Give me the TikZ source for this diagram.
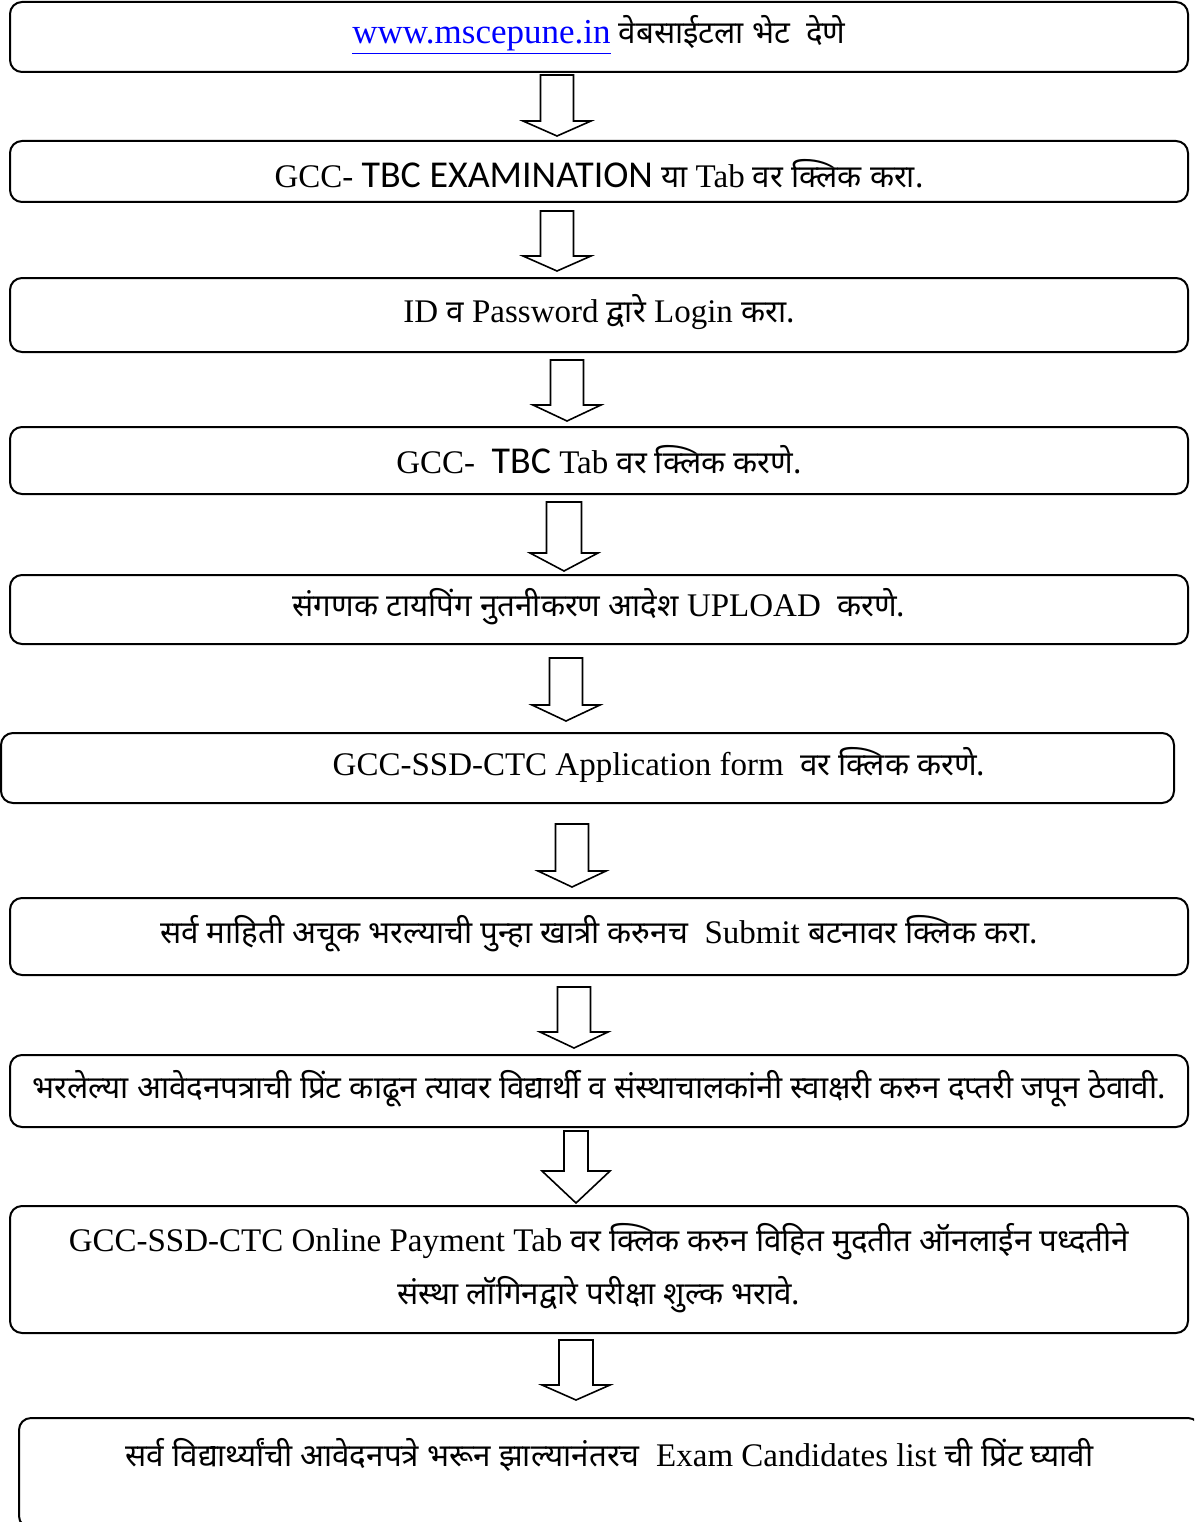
\documentclass[tikz,border=0pt]{standalone}
\usepackage{fontspec}
\setmainfont{Liberation Serif}
\newfontfamily\devfont[Script=Devanagari, Scale=0.95]{Noto Sans}
\newfontfamily\calfont[Scale=1.15]{Carlito}
\usetikzlibrary{calc}
\definecolor{LinkBlue}{HTML}{0000FF}
\newcommand{\mr}[1]{{\devfont #1}}
\newcommand{\cb}[1]{{\calfont #1}}
% block arrow between two named coordinates: top, tip, head length, half shaft
\newcommand{\downblock}[4]{%
  \draw[blockarrow] ($(#1)+(-#4,0)$) -- ($(#1)+(#4,0)$) -- ($(#2)+(#4,-#3)$) -- ($(#2)+(34,-#3)$)
    -- (#2) -- ($(#2)+(-34,-#3)$) -- ($(#2)+(-#4,-#3)$) -- cycle;}
\tikzset{
  stepbox/.style={draw=black, line width=2pt, rounded corners=12pt, fill=white, inner sep=0pt, minimum width=1178pt, align=center, font=\fontsize{33}{53}\selectfont, text height=22pt, text depth=8pt},
  blockarrow/.style={draw=black, line width=1.6pt, fill=white, line join=miter}
}
\begin{document}
\begin{tikzpicture}[x=1pt, y=-1pt]
\useasboundingbox (0,0) rectangle (1194,1522);
\clip (0,0) rectangle (1194,1522);

\node[stepbox, minimum height=70pt] (visit) at (599,37)
  {\textcolor{LinkBlue}{\fontsize{35}{40}\selectfont\underline{www.mscepune.in}} \mr{वेबसाईटला भेट\ \ देणे}};
\node[stepbox, minimum height=61pt, text height=32pt, text depth=0pt] (examtab) at (599,171.5)
  {GCC- \cb{TBC EXAMINATION} \mr{या} Tab \mr{वर क्लिक करा.}};
\node[stepbox, minimum height=74pt] (login) at (599,315)
  {ID \mr{व} Password \mr{द्वारे} Login \mr{करा.}};
\node[stepbox, minimum height=67pt, text height=28pt, text depth=2pt] (tbctab) at (599,460.5)
  {GCC-\ \ \cb{TBC} Tab \mr{वर क्लिक करणे.}};
\node[stepbox, minimum height=69pt] (upload) at (599,609.5)
  {\mr{संगणक टायपिंग नुतनीकरण आदेश} UPLOAD\ \ \mr{करणे.}};
\node[stepbox, minimum width=1173pt, minimum height=70pt] (appform) at (587.5,768)
  {\hspace*{143pt}GCC-SSD-CTC Application form\ \ \mr{वर क्लिक करणे.}};
\node[stepbox, minimum height=77pt] (submit) at (599,936.5)
  {\mr{सर्व माहिती अचूक भरल्याची पुन्हा खात्री करुनच}\ \ Submit \mr{बटनावर क्लिक करा.}};
\node[stepbox, minimum height=72pt] (print) at (599,1091)
  {\mr{भरलेल्या आवेदनपत्राची प्रिंट काढून त्यावर विद्यार्थी व संस्थाचालकांनी स्वाक्षरी करुन दप्तरी जपून ठेवावी.}};
\node[stepbox, minimum height=127pt, text height=78pt] (payment) at (599,1269.5)
  {GCC-SSD-CTC Online Payment Tab \mr{वर क्लिक करुन विहित मुदतीत ऑनलाईन पध्दतीने}\\
   \mr{संस्था लॉगिनद्वारे परीक्षा शुल्क भरावे.}};
\node[stepbox, minimum width=1181pt, minimum height=110pt, text depth=36pt] (candlist) at (609.5,1473)
  {\mr{सर्व विद्यार्थ्यांची आवेदनपत्रे भरून झाल्यानंतरच}\ \ Exam Candidates list \mr{ची प्रिंट घ्यावी}};

% block arrows
\coordinate (a1t) at (557,75);   \coordinate (a1h) at (557,136);
\coordinate (a2t) at (557,211);  \coordinate (a2h) at (557,271);
\coordinate (a3t) at (567,360);  \coordinate (a3h) at (567,421);
\coordinate (a4t) at (564,502);  \coordinate (a4h) at (564,571);
\coordinate (a5t) at (566,658);  \coordinate (a5h) at (566,721);
\coordinate (a6t) at (572,824);  \coordinate (a6h) at (572,887);
\coordinate (a7t) at (574,987);  \coordinate (a7h) at (574,1048);
\coordinate (a8t) at (576,1131); \coordinate (a8h) at (576,1203);
\coordinate (a9t) at (576,1340); \coordinate (a9h) at (576,1400);
\downblock{a1t}{a1h}{15}{16.5}
\downblock{a2t}{a2h}{15}{16.5}
\downblock{a3t}{a3h}{16}{16.5}
\downblock{a4t}{a4h}{18}{17.5}
\downblock{a5t}{a5h}{16}{16.5}
\downblock{a6t}{a6h}{16}{16.5}
\downblock{a7t}{a7h}{16}{16.5}
\downblock{a8t}{a8h}{32}{12}
\downblock{a9t}{a9h}{15}{17}
\end{tikzpicture}
\end{document}
